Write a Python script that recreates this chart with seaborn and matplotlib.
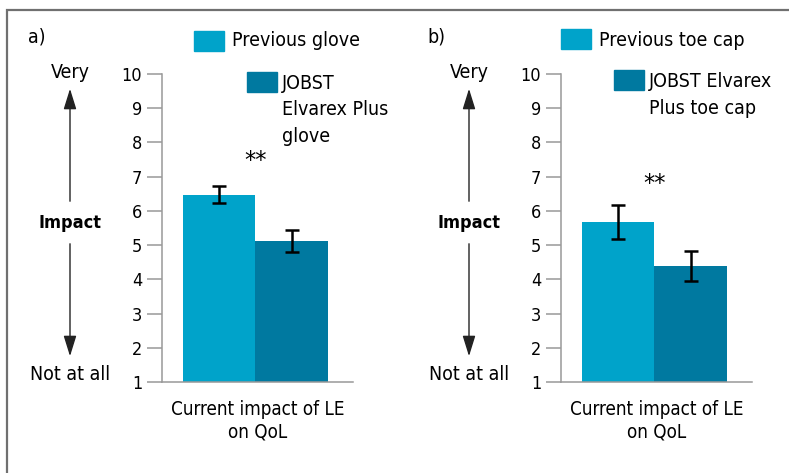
import pandas as pd
import seaborn as sns
import matplotlib.pyplot as plt
from matplotlib.patches import Rectangle, FancyArrowPatch

# Data
category = ["Current impact of LE\non QoL"]

glove_labels = ["Previous glove", "JOBST\nElvarex Plus\nglove"]
glove_means = [6.47, 5.12]
glove_err = [0.25, 0.31]

toe_labels = ["Previous toe cap", "JOBST Elvarex\nPlus toe cap"]
toe_means = [5.68, 4.39]
toe_err = [0.49, 0.44]

colors = ["#00A3CA", "#0079A0"]

sns.set_style("white")
plt.rcParams["font.family"] = ["DejaVu Sans"]
plt.rcParams["font.stretch"] = "condensed"
plt.rcParams["text.color"] = "black"
plt.rcParams["ytick.labelcolor"] = "black"

W, H = 789, 473
fig = plt.figure(figsize=(W / 100, H / 100), dpi=100)


def fx(x):
    return x / W


def fy(y):
    return 1 - y / H


# outer frame
fig.add_artist(Rectangle((fx(7), -0.1), 1.2, fy(10) + 0.1, transform=fig.transFigure,
                         fill=False, edgecolor="#707070", lw=1.6))


def panel(x0, tag, labels, means, errs, star_y, leg):
    df = pd.DataFrame({"group": category * 2, "product": labels, "impact": means})
    ax = fig.add_axes([fx(x0 + 155), fy(382), (191) / W, (382 - 74) / H])
    sns.barplot(data=df, x="group", y="impact", hue="product", palette=colors,
                width=0.8, errorbar=None, legend=False, saturation=1, linewidth=0,
                ax=ax)
    for p, e in zip(ax.patches, errs):
        ax.errorbar(p.get_x() + p.get_width() / 2, p.get_height(), yerr=e,
                    fmt="none", ecolor="black", elinewidth=1.8, capsize=4.8, capthick=1.8)
    ax.text(0, star_y, "**", ha="center", va="center", fontsize=18)
    ax.set_ylim(1, 10)
    ax.set_xlim(-0.516, 0.539)
    ax.set_yticks(range(1, 11))
    ax.tick_params(axis="y", length=10.8, width=1.1, color="#999999", pad=3.5,
                   labelsize=13, left=True)
    ax.tick_params(axis="x", length=0, labelbottom=False)
    sns.despine(ax=ax)
    for s in ["left", "bottom"]:
        ax.spines[s].set_color("#999999")
        ax.spines[s].set_linewidth(1.1)
    ax.set_ylabel("")
    ax.set_xlabel("")
    ax.text(0.5, -0.06, category[0], transform=ax.transAxes, ha="center", va="top",
            fontsize=13.5, linespacing=1.2)

    # legend drawn as staggered boxes
    (p1x, p1y, t1y), (p2x, p2y, t2y) = leg
    fig.add_artist(Rectangle((fx(p1x), fy(p1y + 20)), 30 / W, 20 / H,
                             transform=fig.transFigure, color=colors[0]))
    fig.text(fx(p1x + 38), fy(t1y), labels[0], ha="left", va="center", fontsize=14)
    fig.add_artist(Rectangle((fx(p2x), fy(p2y + 20)), 30 / W, 20 / H,
                             transform=fig.transFigure, color=colors[1]))
    fig.text(fx(p2x + 35), fy(t2y), labels[1], ha="left", va="center", fontsize=14,
             linespacing=1.5)

    # left side impact scale
    cx = x0 + 63
    fig.text(fx(x0 + 21), fy(37), tag, ha="left", va="center", fontsize=14)
    fig.text(fx(cx), fy(72), "Very", ha="center", va="center", fontsize=14)
    fig.text(fx(cx), fy(223), "Impact", ha="center", va="center", fontsize=13,
             fontweight="bold")
    fig.text(fx(cx), fy(374), "Not at all", ha="center", va="center", fontsize=14)
    arrow = dict(arrowstyle="-|>,head_length=0.9,head_width=0.28", color="#222222", lw=1)
    fig.add_artist(FancyArrowPatch((fx(cx), fy(204)), (fx(cx), fy(86)),
                                   transform=fig.transFigure, mutation_scale=14, **arrow))
    fig.add_artist(FancyArrowPatch((fx(cx), fy(241)), (fx(cx), fy(359)),
                                   transform=fig.transFigure, mutation_scale=14, **arrow))
    return ax


panel(7, "a)", glove_labels, glove_means, glove_err, 7.45,
      [(194, 31, 41), (247, 72, 109.5)])
panel(406, "b)", toe_labels, toe_means, toe_err, 6.8,
      [(561, 29, 40), (614, 70, 95)])

fig.savefig("out.png", dpi=100)
